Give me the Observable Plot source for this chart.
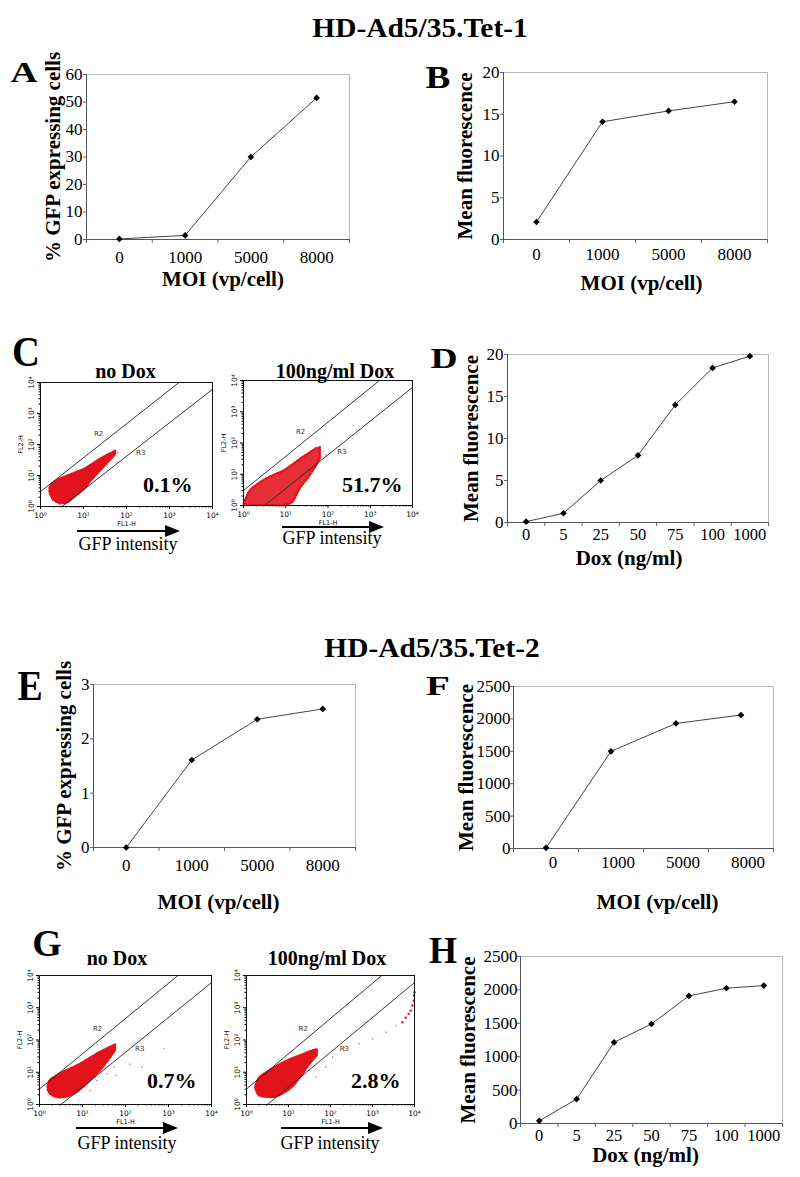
<!DOCTYPE html>
<html>
<head>
<meta charset="utf-8">
<script src="https://cdn.jsdelivr.net/npm/d3@7"></script>
<script src="https://cdn.jsdelivr.net/npm/@observablehq/plot@0.6"></script>
<style>
  body { margin: 0; background: #fff; }
  #root { position: relative; width: 800px; height: 1177px; overflow: hidden; background: #fff; }
  #root svg { position: absolute; overflow: visible; }
</style>
</head>
<body>
<div id="root"></div>
<script>
// ---------------- DATA ----------------
const title1 = "HD-Ad5/35.Tet-1";
const title2 = "HD-Ad5/35.Tet-2";
const moiCats = ["0", "1000", "5000", "8000"];
const doxCats = ["0", "5", "25", "50", "75", "100", "1000"];
const moiLabel = "MOI (vp/cell)";
const doxLabel = "Dox (ng/ml)";
const pctLabel = "% GFP expressing cells";
const mfLabel = "Mean fluorescence";

// Tet-1
const tet1PctGFP = [0.2, 1.5, 30, 51.5];
const tet1MeanFluorMOI = [2.1, 14.1, 15.4, 16.5];
const tet1MeanFluorDox = [0.1, 1.1, 5.0, 8.0, 14.0, 18.4, 19.8];
// Tet-2
const tet2PctGFP = [0, 1.61, 2.36, 2.55];
const tet2MeanFluorMOI = [10, 1500, 1930, 2060];
const tet2MeanFluorDox = [40, 365, 1215, 1490, 1910, 2025, 2065];

const ticks60 = [0, 10, 20, 30, 40, 50, 60];
const ticks20 = [0, 5, 10, 15, 20];
const ticks3 = [0, 1, 2, 3];
const ticks2500 = [0, 500, 1000, 1500, 2000, 2500];

// Flow cytometry (log10 FL1-H, log10 FL2-H low, log10 FL2-H high) cloud outlines
const cloudC1 = [[0.22,0.45,0.6],[0.3,0.22,0.75],[0.45,0.1,0.88],[0.63,0.12,0.98],[0.8,0.3,1.08],[1.02,0.55,1.2],[1.2,0.85,1.35],[1.4,1.15,1.53],[1.6,1.45,1.68],[1.75,1.68,1.78]];
const cloudC2 = [[0.05,0,0.15],[0.15,0,0.45],[0.35,0,0.68],[0.55,0,0.85],[0.75,0,0.98],[0.95,0,1.1],[1.15,0.08,1.28],[1.35,0.55,1.48],[1.55,0.9,1.66],[1.72,1.25,1.8],[1.82,1.5,1.85]];
const cloudG1 = [[0.2,0.45,0.55],[0.25,0.33,0.74],[0.4,0.22,0.88],[0.64,0.23,1.05],[0.85,0.35,1.18],[1.03,0.54,1.31],[1.2,0.75,1.45],[1.42,1.05,1.62],[1.6,1.35,1.74],[1.77,1.67,1.85]];
const cloudG2 = [[0.22,0.5,0.54],[0.3,0.28,0.8],[0.5,0.22,1.0],[0.7,0.23,1.16],[0.9,0.35,1.3],[1.1,0.54,1.42],[1.3,0.85,1.52],[1.49,1.21,1.62],[1.6,1.38,1.67],[1.69,1.52,1.7]];
// scattered events (log10 FL1-H, log10 FL2-H)
const dotsC1 = [[0.45,0.06],[1.8,1.74],[1.7,1.82],[0.28,0.2],[1.55,1.35]];
const dotsC2 = [[1.9,1.72],[1.85,1.55],[1.62,1.05],[1.45,0.72],[0.1,0.05],[1.7,1.86],[1.95,1.62],[0.08,0.12]];
const dotsG1 = [[1.42,1.0],[1.57,0.95],[1.73,1.16],[1.77,0.9],[2.39,1.16],[2.9,1.73],[1.34,0.74],[1.18,0.43],[2.1,1.25]];
const dotsG2 = [[1.49,1.05],[1.33,0.9],[1.89,1.16],[2.05,1.47],[1.65,0.85],[2.33,1.76],[2.68,1.88],[3.0,2.04],[3.32,2.24],[3.56,2.45]];
const streakG2 = [[3.71,2.55],[3.79,2.69],[3.86,2.81],[3.91,2.91],[3.95,3.07],[3.98,3.22],[3.99,3.38],[4.0,3.48]];
const gateR2 = [[0,0.48],[3.22,4.0],[0,4.0]];
const gateR3 = [[0.5,0],[4.0,3.78]];
const gateLabels = [{name: "R2", x: 1.35, y: 2.35}, {name: "R3", x: 2.33, y: 1.72}];
const flowTicks = [1, 10, 100, 1000, 10000];
const flowTickLabels = ["10\u2070", "10\u00B9", "10\u00B2", "10\u00B3", "10\u2074"];

// ---------------- HELPERS ----------------
const FONT = "'Liberation Serif', 'Times New Roman', serif";
const root = document.getElementById("root");

function place(svg, left, top) {
  svg.style.left = left + "px";
  svg.style.top = top + "px";
  svg.style.overflow = "visible";
  root.appendChild(svg);
}

function label(text, cx, cy, size, weight, sx = 1) {
  const d = document.createElement("div");
  d.textContent = text;
  Object.assign(d.style, {
    position: "absolute", left: cx + "px", top: cy + "px",
    transform: `translate(-50%,-50%) scaleX(${sx})`,
    fontSize: size + "px", fontWeight: weight, lineHeight: "1",
    whiteSpace: "nowrap", fontFamily: FONT, color: "#000"
  });
  root.appendChild(d);
}

function arrow(x0, x1, y) {
  const line = document.createElement("div");
  Object.assign(line.style, {position: "absolute", left: x0 + "px", top: (y - 1) + "px",
    width: (x1 - x0 - 14) + "px", height: "2px", background: "#000"});
  root.appendChild(line);
  const head = document.createElement("div");
  Object.assign(head.style, {position: "absolute", left: (x1 - 15) + "px", top: (y - 6) + "px",
    width: 0, height: 0, borderLeft: "15px solid #000",
    borderTop: "6px solid transparent", borderBottom: "6px solid transparent"});
  root.appendChild(head);
}

function lineChart(o) {
  const [x0, y0, x1, y1] = o.frame;
  const ml = 80, mr = 20, mt = 20, mb = 70;
  const n = o.cats.length;
  const bounds = d3.range(n + 1).map(i => i - 0.5);
  const fs = o.tickFont || 17;
  const svg = Plot.plot({
    width: x1 - x0 + ml + mr, height: y1 - y0 + mt + mb,
    marginLeft: ml, marginRight: mr, marginTop: mt, marginBottom: mb,
    style: {fontFamily: FONT, background: "transparent", color: "#000", overflow: "visible"},
    x: {domain: [-0.5, n - 0.5]},
    y: {domain: [0, o.yMax]},
    marks: [
      Plot.frame({stroke: "#b8b8b8"}),
      Plot.axisX({ticks: bounds, tickSize: 4, tickFormat: () => "", label: null, stroke: "#666"}),
      Plot.axisY({ticks: o.yTicks, tickSize: 3, tickFormat: () => "", label: null, stroke: "#666"}),
      Plot.ruleY([0], {stroke: "#555"}),
      Plot.ruleX([-0.5], {stroke: "#555"}),
      Plot.text(o.yTicks, {y: d => d, text: d => String(d), frameAnchor: "left", dx: o.ytDx ?? -4,
        textAnchor: "end", lineAnchor: "middle", fontSize: 17}),
      Plot.text(o.cats, {x: (d, i) => i, text: d => d, frameAnchor: "bottom", dy: o.xtDy, dx: o.xtDx || 0,
        textAnchor: "middle", lineAnchor: "middle", fontSize: fs}),
      Plot.line(o.vals, {x: (d, i) => i, y: d => d, stroke: "#444", strokeWidth: 1}),
      Plot.dot(o.vals, {x: (d, i) => i, y: d => d, symbol: "diamond2", r: 3, fill: "#000", stroke: "none"}),
      Plot.text([o.ylabel], {text: d => d, frameAnchor: "left", dx: o.ylDx, rotate: -90,
        textAnchor: "middle", lineAnchor: "middle", fontSize: 21, fontWeight: "bold"}),
      Plot.text([o.xlabel], {text: d => d, frameAnchor: "bottom", dy: o.xlDy, dx: o.xlDx || 0,
        textAnchor: "middle", lineAnchor: "middle", fontSize: 21, fontWeight: "bold"})
    ]
  });
  place(svg, x0 - ml, y0 - mt);
}

function flowChart(o) {
  const [x0, y0, x1, y1] = o.frame;
  const ml = 40, mr = 12, mt = 10, mb = 30;
  const P = v => 10 ** v;
  const minor = [];
  for (let e = 0; e < 4; e++) for (let k = 2; k <= 9; k++) minor.push(k * 10 ** e);
  const red = "#e3121b";
  const svg = Plot.plot({
    width: x1 - x0 + ml + mr, height: y1 - y0 + mt + mb,
    marginLeft: ml, marginRight: mr, marginTop: mt, marginBottom: mb,
    style: {fontFamily: "'DejaVu Sans', sans-serif", background: "transparent", color: "#000", overflow: "visible"},
    x: {type: "log", domain: [1, 1e4]},
    y: {type: "log", domain: [1, 1e4]},
    marks: [
      Plot.areaY(o.cloud, {x: d => P(d[0]), y1: d => P(d[1]), y2: d => P(d[2]), fill: red,
        fillOpacity: o.opacity || 1, curve: "catmull-rom"}),
      Plot.areaY(o.cloud, {x: d => P(d[0]), y1: d => P(d[1]), y2: d => P(d[2]), fill: "none",
        stroke: red, strokeWidth: 2.2, strokeDasharray: "1 1.6", curve: "catmull-rom"}),
      Plot.dot(o.dots, {x: d => P(d[0]), y: d => P(d[1]), r: 0.8, fill: "#e86a6a", stroke: "none"}),
      Plot.dot(o.streak || [], {x: d => P(d[0]), y: d => P(d[1]), r: 1.2, fill: red, stroke: "none"}),
      Plot.line(gateR2, {x: d => P(d[0]), y: d => P(d[1]), stroke: "#222", strokeWidth: 0.9}),
      Plot.line(gateR3, {x: d => P(d[0]), y: d => P(d[1]), stroke: "#222", strokeWidth: 0.9}),
      Plot.frame({stroke: "#111"}),
      Plot.axisX({ticks: flowTicks, tickSize: 3, tickFormat: () => "", label: null}),
      Plot.axisX({ticks: minor, tickSize: 1.5, tickFormat: () => "", label: null}),
      Plot.axisY({ticks: flowTicks, tickSize: 3, tickFormat: () => "", label: null}),
      Plot.axisY({ticks: minor, tickSize: 1.5, tickFormat: () => "", label: null}),
      Plot.text(flowTicks, {x: d => d, text: (d, i) => flowTickLabels[i], frameAnchor: "bottom", dy: 9,
        textAnchor: "middle", lineAnchor: "middle", fontSize: 7.5}),
      Plot.text(flowTicks, {y: d => d, text: (d, i) => flowTickLabels[i], frameAnchor: "left", dx: -9, rotate: -90,
        textAnchor: "middle", lineAnchor: "middle", fontSize: 7.5}),
      Plot.text(["FL1-H"], {text: d => d, frameAnchor: "bottom", dy: 17, textAnchor: "middle", lineAnchor: "middle", fontSize: 6.5}),
      Plot.text(["FL2-H"], {text: d => d, frameAnchor: "left", dx: -20, rotate: -90, textAnchor: "middle", lineAnchor: "middle", fontSize: 6.5}),
      Plot.text(gateLabels, {x: d => P(d.x), y: d => P(d.y), text: d => d.name, fontSize: 7, fill: "#333"}),
      Plot.text([o.pct], {text: d => d, frameAnchor: "bottom-right", dx: o.pDx, dy: o.pDy, textAnchor: "end",
        lineAnchor: "middle", fontSize: 22, fontWeight: "bold", fontFamily: FONT})
    ]
  });
  place(svg, x0 - ml, y0 - mt);
}

// ---------------- TITLES & LETTERS ----------------
label(title1, 420, 28, 28, "bold", 1.05);
label(title2, 432, 648, 28, "bold", 1.05);
label("A", 23.5, 72, 29, "bold", 1.29);
label("B", 437.5, 77, 31, "bold", 1.2);
label("C", 26, 352, 42, "bold", 0.92);
label("D", 443.5, 358, 30, "bold", 1.25);
label("E", 29.5, 686, 42, "bold", 0.9);
label("F", 438, 685.5, 27, "bold", 1.45);
label("G", 47, 943, 38, "bold", 1.0);
label("H", 443, 949.5, 38, "bold", 0.95);

// ---------------- LINE CHARTS ----------------
lineChart({frame: [86, 74, 349, 239], cats: moiCats, vals: tet1PctGFP, yMax: 60, yTicks: ticks60,
  ylabel: pctLabel, xlabel: moiLabel, ylDx: -33, xtDy: 18, xlDy: 40, xlDx: 5});
lineChart({frame: [503, 72, 767, 239], cats: moiCats, vals: tet1MeanFluorMOI, yMax: 20, yTicks: ticks20,
  ylabel: mfLabel, xlabel: moiLabel, ylDx: -38, xtDy: 15, xlDy: 44, xlDx: 6});
lineChart({frame: [507, 354, 768, 522], cats: doxCats, vals: tet1MeanFluorDox, yMax: 20, yTicks: ticks20,
  ylabel: mfLabel, xlabel: doxLabel, ylDx: -36, xtDy: 12, xlDy: 36, xlDx: -9, tickFont: 16.5});
lineChart({frame: [93, 684, 355, 847], cats: moiCats, vals: tet2PctGFP, yMax: 3, yTicks: ticks3,
  ylabel: pctLabel, xlabel: moiLabel, ylDx: -29, xtDy: 18, xlDy: 55, xlDx: -6});
lineChart({frame: [513, 686, 773, 848], cats: moiCats, vals: tet2MeanFluorMOI, yMax: 2500, yTicks: ticks2500,
  ylabel: mfLabel, xlabel: moiLabel, ylDx: -47, xtDy: 14, xtDx: 7, xlDy: 54, xlDx: 14, ytDx: -3});
lineChart({frame: [520, 956, 782, 1123], cats: doxCats, vals: tet2MeanFluorDox, yMax: 2500, yTicks: ticks2500,
  ylabel: mfLabel, xlabel: doxLabel, ylDx: -52, xtDy: 12, xlDy: 32, xlDx: -6, ytDx: -3, tickFont: 16.5});

// ---------------- FLOW PLOTS ----------------
flowChart({frame: [40, 382, 212, 506], cloud: cloudC1, dots: dotsC1, pct: "0.1%", pDx: -20, pDy: -22});
flowChart({frame: [243, 380, 412, 505], cloud: cloudC2, dots: dotsC2, pct: "51.7%", pDx: -10, pDy: -21, opacity: 0.88});
flowChart({frame: [39, 975, 211, 1104], cloud: cloudG1, dots: dotsG1, pct: "0.7%", pDx: -15, pDy: -24});
flowChart({frame: [246, 975, 414, 1104], cloud: cloudG2, dots: dotsG2, streak: streakG2, pct: "2.8%", pDx: -14, pDy: -24});

label("no Dox", 125.5, 371, 20, "bold");
label("100ng/ml Dox", 335, 371, 20, "bold");
label("no Dox", 117, 958, 20, "bold");
label("100ng/ml Dox", 327, 958, 20, "bold");

arrow(77, 180, 531); label("GFP intensity", 128, 544, 18, "normal");
arrow(282, 384, 527); label("GFP intensity", 332, 538, 18, "normal");
arrow(76, 178, 1128); label("GFP intensity", 127, 1143, 18, "normal");
arrow(281, 383, 1128); label("GFP intensity", 330, 1143, 18, "normal");
</script>
</body>
</html>
